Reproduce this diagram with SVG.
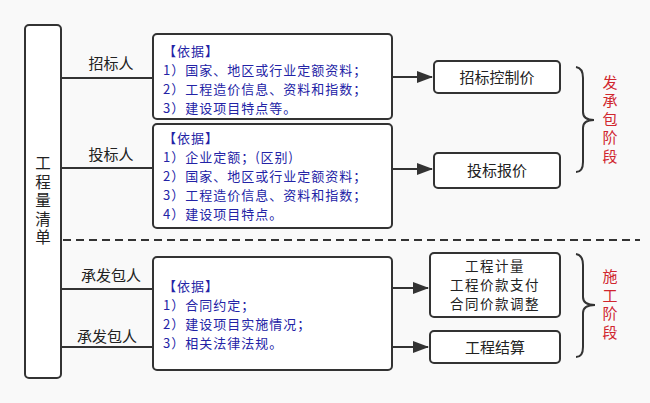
<svg xmlns="http://www.w3.org/2000/svg" width="650" height="403" viewBox="0 0 650 403">
<style>
.box{fill:#fff;stroke:#333;stroke-width:2}
.ln{stroke:#333;stroke-width:2;fill:none}
.t{font-family:"Noto Sans CJK SC","Noto Sans",sans-serif;font-size:15px;fill:#222}
.m{font-size:13.5px;letter-spacing:1.5px}
.b{font-family:"Noto Sans CJK SC","Noto Sans",sans-serif;font-size:13px;letter-spacing:1px;fill:#2323a6}
.v{font-family:"Noto Sans CJK SC","Noto Sans",sans-serif;writing-mode:vertical-rl;text-anchor:middle}
.r{fill:#d0262e;font-size:15px;letter-spacing:3.5px}
.c{text-anchor:middle}
</style>
<defs>
<marker id="arrL" markerWidth="16" markerHeight="12" refX="15" refY="6" orient="auto" markerUnits="userSpaceOnUse" viewBox="0 0 16 12">
<path d="M0,0 L16,6 L0,12 z" fill="#333"/>
</marker>
</defs>
<rect width="650" height="403" fill="#f9f9f9"/>
<g id="connectors">
<line class="ln" x1="61" y1="78" x2="153" y2="78"/>
<line class="ln" x1="61" y1="168" x2="153" y2="168"/>
<line class="ln" x1="61" y1="289" x2="153" y2="289"/>
<line class="ln" x1="61" y1="347" x2="153" y2="347"/>
<line class="ln" x1="392" y1="77" x2="432" y2="77" marker-end="url(#arrL)"/>
<line class="ln" x1="392" y1="169" x2="432" y2="169" marker-end="url(#arrL)"/>
<line class="ln" x1="392" y1="288" x2="428" y2="288" marker-end="url(#arrL)"/>
<line class="ln" x1="392" y1="347" x2="428" y2="347" marker-end="url(#arrL)"/>
<line x1="63" y1="240" x2="640" y2="240" stroke="#333" stroke-width="2" stroke-dasharray="8,5"/>
<path class="ln" d="M576,67 Q583,68 583,78 L583,112 Q583,120 594,120 Q583,120 583,128 L583,162 Q583,172 576,172"/>
<path class="ln" d="M576,254 Q583,255 583,265 L583,297 Q583,305 595,305 Q583,305 583,313 L583,347 Q583,357 576,357"/>
</g>
<g id="main">
<rect class="box" x="25" y="25" width="36" height="353" rx="4"/>
<text class="v" x="43" y="202" style="font-size:15.5px;letter-spacing:3px;fill:#222">工程量清单</text>
</g>
<g id="labels">
<text class="t c" x="111" y="69">招标人</text>
<text class="t c" x="111" y="160">投标人</text>
<text class="t c" x="111" y="281">承发包人</text>
<text class="t c" x="107" y="342">承发包人</text>
</g>
<g id="basis1">
<rect class="box" x="153" y="34" width="239" height="85" rx="4"/>
<text class="b"><tspan x="163" y="56">【依据】</tspan><tspan x="163" y="75">1）国家、地区或行业定额资料；</tspan><tspan x="163" y="94">2）工程造价信息、资料和指数；</tspan><tspan x="163" y="113">3）建设项目特点等。</tspan></text>
</g>
<g id="basis2">
<rect class="box" x="153" y="124" width="239" height="104" rx="4"/>
<text class="b"><tspan x="163" y="143">【依据】</tspan><tspan x="163" y="162">1）企业定额；(区别)</tspan><tspan x="163" y="181">2）国家、地区或行业定额资料；</tspan><tspan x="163" y="200">3）工程造价信息、资料和指数；</tspan><tspan x="163" y="219">4）建设项目特点。</tspan></text>
</g>
<g id="basis3">
<rect class="box" x="153" y="257" width="239" height="113" rx="4"/>
<text class="b"><tspan x="163" y="291">【依据】</tspan><tspan x="163" y="310">1）合同约定；</tspan><tspan x="163" y="329">2）建设项目实施情况；</tspan><tspan x="163" y="348">3）相关法律法规。</tspan></text>
</g>
<g id="zbkzj">
<rect class="box" x="434" y="61" width="126" height="32" rx="4"/>
<text class="t c" x="497" y="83">招标控制价</text>
</g>
<g id="tbbj">
<rect class="box" x="434" y="153" width="126" height="35" rx="4"/>
<text class="t c" x="497" y="176">投标报价</text>
</g>
<g id="gcjl">
<rect class="box" x="430" y="253" width="130" height="64" rx="4"/>
<text class="t m c"><tspan x="495" y="271">工程计量</tspan><tspan x="495" y="290">工程价款支付</tspan><tspan x="495" y="309">合同价款调整</tspan></text>
</g>
<g id="gcjs">
<rect class="box" x="430" y="331" width="130" height="32" rx="4"/>
<text class="t c" x="495" y="353">工程结算</text>
</g>
<g id="stage1">
<text class="v r" x="610" y="121">发承包阶段</text>
</g>
<g id="stage2">
<text class="v r" x="610" y="306">施工阶段</text>
</g>
</svg>
